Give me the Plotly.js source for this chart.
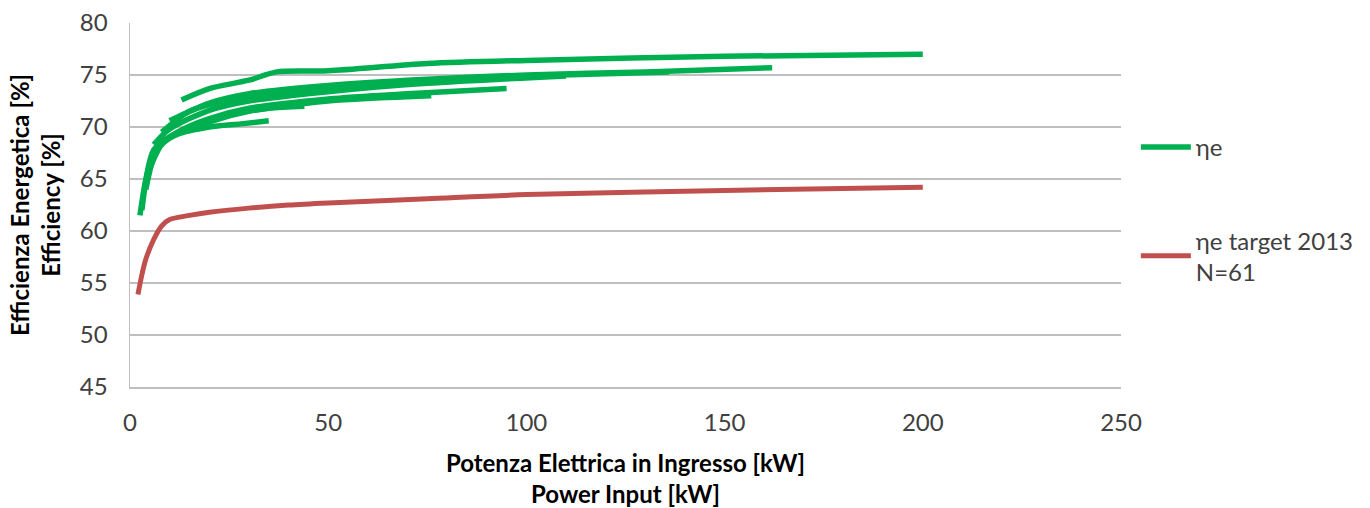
<!DOCTYPE html>
<html><head><meta charset="utf-8">
<script src="https://cdn.plot.ly/plotly-3.0.1.min.js"></script>
<style>body{margin:0;background:#fff}#chart{width:1370px;height:508px}</style>
</head><body><div id="chart"></div>
<script>
// Green curves (ηe), one per measured unit
const gA_x = [13, 20, 30, 37, 50, 75, 100, 150, 200];
const gA_y = [72.6, 73.7, 74.5, 75.3, 75.4, 76.1, 76.4, 76.8, 77.0];
const gB_x = [10, 20, 30, 50, 75, 100, 130, 162];
const gB_y = [70.6, 72.3, 73.2, 74.0, 74.6, 75.0, 75.3, 75.7];
const gC_x = [8, 15, 25, 40, 60, 80, 100, 136];
const gC_y = [69.5, 71.5, 72.6, 73.4, 74.2, 74.6, 74.9, 75.3];
const gD_x = [6, 10, 20, 30, 50, 75, 110];
const gD_y = [68.3, 69.8, 71.6, 72.5, 73.4, 74.2, 74.9];
const gE_x = [4, 7, 12, 20, 30, 50, 70, 95];
const gE_y = [64.0, 68.0, 69.5, 70.8, 71.8, 72.7, 73.2, 73.7];
const gF_x = [2.5, 4, 6, 10, 20, 30, 50, 76];
const gF_y = [61.5, 65.0, 67.8, 69.0, 70.5, 71.5, 72.5, 73.0];
const gG_x = [3, 5, 8, 15, 25, 35, 44];
const gG_y = [62.0, 66.5, 68.5, 70.0, 71.2, 71.8, 72.0];
const gH_x = [5, 8, 12, 20, 28, 35];
const gH_y = [66.0, 68.3, 69.3, 70.0, 70.3, 70.6];
// Red target curve
const red_x = [2, 3, 4, 6, 8, 10, 15, 20, 30, 40, 50, 75, 100, 150, 200];
const red_y = [53.9, 55.8, 57.3, 59.2, 60.5, 61.1, 61.5, 61.8, 62.2, 62.5, 62.7, 63.1, 63.5, 63.9, 64.2];

const xTicks = [0, 50, 100, 150, 200, 250];
const yTicks = [45, 50, 55, 60, 65, 70, 75, 80];

const GREEN = '#00B050', RED = '#C0504D';
const greens = [[gA_x,gA_y],[gB_x,gB_y],[gC_x,gC_y],[gD_x,gD_y],[gE_x,gE_y],[gF_x,gF_y],[gG_x,gG_y],[gH_x,gH_y]];
const traces = greens.map((g, i) => ({
  x: g[0], y: g[1], type: 'scatter', mode: 'lines',
  line: {color: GREEN, width: 5.5, shape: 'spline', smoothing: 0.8},
  name: 'ηe', legendgroup: 'g', showlegend: i === 0, hoverinfo: 'skip'
}));
traces.push({
  x: red_x, y: red_y, type: 'scatter', mode: 'lines',
  line: {color: RED, width: 5, shape: 'spline', smoothing: 0.8},
  name: 'ηe target 2013<br>N=61', legendgroup: 'r'
});

const FONT = 'Lato, "Open Sans", sans-serif';
const layout = {
  width: 1370, height: 508,
  margin: {l: 130, r: 249, t: 23, b: 121, autoexpand: false},
  paper_bgcolor: '#fff', plot_bgcolor: '#fff',
  font: {family: FONT, color: '#404040', size: 24},
  showlegend: true,
  legend: {x: 1.015, y: 0.72, xanchor: 'left', yanchor: 'top', traceorder: 'grouped',
           tracegroupgap: 59, font: {family: FONT, size: 24, color: '#404040'}, itemwidth: 50, bgcolor: 'rgba(0,0,0,0)'},
  xaxis: {
    range: [0, 250], tickvals: xTicks, ticktext: xTicks.map(String), automargin: false,
    showgrid: false, zeroline: false, showline: true, linecolor: '#BFBFBF', linewidth: 1.5,
    ticks: '', ticklabelstandoff: 14, tickfont: {family: FONT, size: 24, color: '#404040'},
    title: {text: '<b>Potenza Elettrica in Ingresso [kW]<br>Power Input [kW]</b>', font: {family: FONT, size: 24, color: '#000'}, standoff: 22}
  },
  yaxis: {
    range: [45, 80], tickvals: yTicks, ticktext: yTicks.map(String), automargin: false,
    showgrid: true, gridcolor: '#BFBFBF', gridwidth: 1.5, zeroline: false,
    showline: true, linecolor: '#BFBFBF', linewidth: 1.5,
    ticks: '', ticklabelstandoff: 16, tickfont: {family: FONT, size: 24, color: '#404040'},
    title: {text: '<b>Efficienza Energetica [%]<br>Efficiency [%]</b>', font: {family: FONT, size: 24, color: '#000'}, standoff: 12}
  }
};
Plotly.newPlot('chart', traces, layout, {staticPlot: true, displayModeBar: false});
</script></body></html>
